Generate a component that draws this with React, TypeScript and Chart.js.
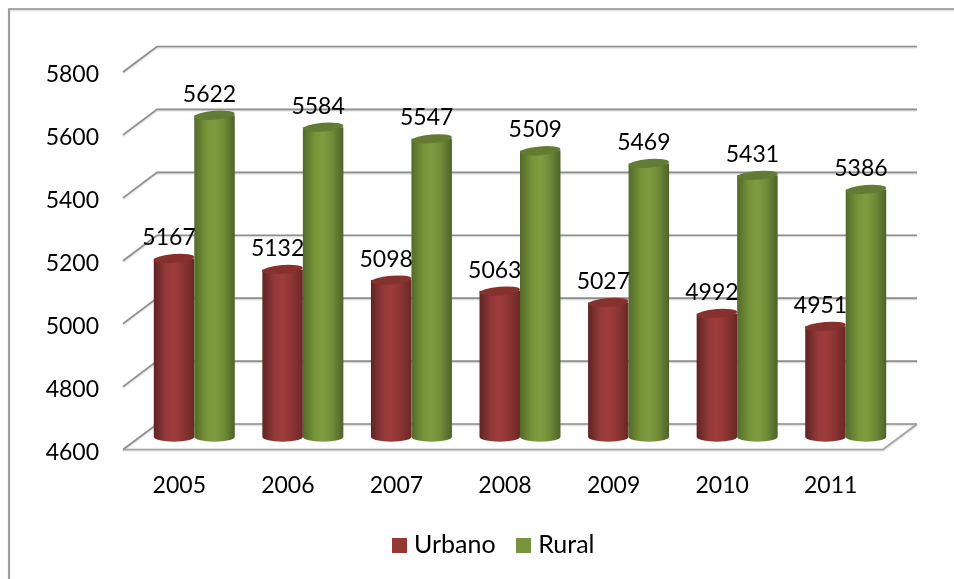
import React, { useEffect, useRef } from "react";
import { Chart, registerables } from "chart.js";

Chart.register(...registerables);

const years = ["2005", "2006", "2007", "2008", "2009", "2010", "2011"];
const urbano = [5167, 5132, 5098, 5063, 5027, 4992, 4951];
const rural = [5622, 5584, 5547, 5509, 5469, 5431, 5386];

const FONT = "Lato";
const FONT_SIZE = 23;
const GRID = "#8e8e8e";
const DEPTH_X = 34;
const DEPTH_Y = 25.5;
const LEGEND_SHIFT = 54.5;

const shades = [
  { left: "#5f2422", midL: "#93393a", mid: "#9e3c3a", midR: "#8c3533", right: "#6a2826", top: "#87312f", solid: "#953735" },
  { left: "#536a2b", midL: "#779438", mid: "#7f9d40", midR: "#718c37", right: "#4d632a", top: "#637c33", solid: "#77933c" },
];

function swatch(color: string) {
  const c = document.createElement("canvas");
  c.width = 15;
  c.height = 15;
  const x = c.getContext("2d")!;
  x.fillStyle = color;
  x.fillRect(0, 0, 15, 15);
  return c;
}

function cylinder(ctx: CanvasRenderingContext2D, el: any, floor: number, s: any) {
  const cx = el.x + DEPTH_X / 2;
  const hw = el.width / 2;
  const top = el.y - DEPTH_Y / 2;
  const base = floor - DEPTH_Y / 2;
  const g = ctx.createLinearGradient(cx - hw, 0, cx + hw, 0);
  g.addColorStop(0, s.left);
  g.addColorStop(0.3, s.midL);
  g.addColorStop(0.5, s.mid);
  g.addColorStop(0.72, s.midR);
  g.addColorStop(1, s.right);
  ctx.save();
  ctx.fillStyle = g;
  ctx.beginPath();
  ctx.moveTo(cx - hw, top);
  ctx.lineTo(cx - hw, base);
  ctx.ellipse(cx, base, hw, 5, 0, Math.PI, 0, true);
  ctx.lineTo(cx + hw, top);
  ctx.closePath();
  ctx.fill();
  ctx.fillStyle = s.top;
  ctx.beginPath();
  ctx.ellipse(cx, top, hw, 4.4, -0.08, 0, Math.PI * 2);
  ctx.fill();
  ctx.restore();
}

const chart3d = {
  id: "chart3d",
  afterLayout(chart: any) {
    chart.legend.left += LEGEND_SHIFT;
    chart.legend.right += LEGEND_SHIFT;
  },
  beforeDatasetsDraw(chart: any) {
    const { ctx, chartArea: a, scales } = chart;
    ctx.save();
    ctx.strokeStyle = GRID;
    ctx.lineWidth = 1.6;
    ctx.shadowColor = "rgba(0,0,0,0.2)";
    ctx.shadowBlur = 1.5;
    ctx.shadowOffsetY = 1;
    ctx.beginPath();
    ctx.moveTo(9, 1000);
    ctx.lineTo(9, 9);
    ctx.lineTo(2000, 9);
    ctx.stroke();
    for (const t of scales.y.ticks) {
      const y = scales.y.getPixelForValue(t.value);
      ctx.beginPath();
      ctx.moveTo(a.left, y);
      ctx.lineTo(a.left + DEPTH_X, y - DEPTH_Y);
      ctx.lineTo(a.right + DEPTH_X, y - DEPTH_Y);
      ctx.stroke();
    }
    ctx.strokeStyle = "#a3a3a3";
    ctx.beginPath();
    ctx.moveTo(a.left, a.bottom);
    ctx.lineTo(a.right, a.bottom);
    ctx.lineTo(a.right + DEPTH_X, a.bottom - DEPTH_Y);
    ctx.stroke();
    ctx.restore();
    // urbano first, so that rural overlaps it
    [0, 1].forEach((i) =>
      chart.getDatasetMeta(i).data.forEach((el: any) => cylinder(ctx, el, a.bottom, shades[i]))
    );
  },
  beforeDatasetDraw() {
    return false;
  },
  afterDatasetsDraw(chart: any) {
    const { ctx } = chart;
    ctx.save();
    ctx.fillStyle = "#000";
    ctx.font = `${FONT_SIZE}px ${FONT}`;
    ctx.textAlign = "center";
    ctx.textBaseline = "middle";
    chart.data.datasets.forEach((ds: any, i: number) => {
      chart.getDatasetMeta(i).data.forEach((el: any, j: number) => {
        ctx.fillText(String(ds.data[j]), el.x + 12, el.y - DEPTH_Y / 2 - 21);
      });
    });
    ctx.restore();
  },
};

export default function App() {
  const ref = useRef<HTMLCanvasElement>(null);
  useEffect(() => {
    const swatches = shades.map((s) => swatch(s.solid));
    const chart = new Chart(ref.current!, {
      type: "bar",
      data: {
        labels: years,
        datasets: [
          { label: "Urbano", data: urbano, backgroundColor: shades[0].solid, barPercentage: 1, categoryPercentage: 0.746 },
          { label: "Rural", data: rural, backgroundColor: shades[1].solid, barPercentage: 1, categoryPercentage: 0.746 },
        ],
      },
      options: {
        animation: false,
        responsive: false,
        layout: { padding: { left: 0, right: 71, top: 72, bottom: 11.5 } },
        scales: {
          x: {
            grid: { display: false },
            border: { display: false },
            ticks: { color: "#000", font: { family: FONT, size: FONT_SIZE }, padding: 14, labelOffset: 2, maxRotation: 0 },
            afterFit: (s: any) => { s.height = 57; },
          },
          y: {
            min: 4600,
            max: 5800,
            grid: { display: false },
            border: { display: false },
            ticks: { stepSize: 200, color: "#000", font: { family: FONT, size: FONT_SIZE }, padding: 16, labelOffset: 3, callback: (v: any) => String(v) },
            afterFit: (s: any) => { s.width = 123; },
          },
        },
        plugins: {
          tooltip: { enabled: false },
          title: { display: false },
          legend: {
            position: "bottom",
            labels: {
              usePointStyle: true,
              pointStyleWidth: 4,
              boxHeight: 15,
              padding: 26,
              color: "#000",
              font: { family: FONT, size: 25 },
              generateLabels: (c: any) =>
                Chart.defaults.plugins.legend.labels.generateLabels(c).map((item: any, i: number) => ({
                  ...item,
                  pointStyle: swatches[i],
                })),
            },
          },
        },
      },
      plugins: [chart3d],
    } as any);
    return () => chart.destroy();
  }, []);
  return (
    <canvas
      ref={ref}
      width={954}
      height={579}
      style={{ position: "absolute", left: 0, top: 0, display: "block" }}
    />
  );
}
